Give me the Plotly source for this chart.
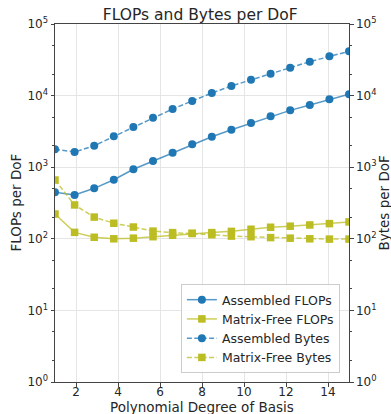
import plotly.graph_objects as go

# Data
degree = [1.0, 1.933, 2.867, 3.8, 4.733, 5.667, 6.6, 7.533, 8.467, 9.4,
          10.333, 11.267, 12.2, 13.133, 14.067, 15.0]
assembled_flops = [446, 409, 507, 669, 935, 1221, 1594, 2088, 2667, 3340,
                   4143, 5130, 6220, 7390, 8870, 10420]
matrixfree_flops = [222, 123, 105, 100, 102, 107, 112, 119, 122, 127,
                    136, 145, 150, 156, 163, 172]
assembled_bytes = [1780, 1630, 2000, 2700, 3640, 4910, 6500, 8410, 10870, 13620,
                   16680, 20220, 24540, 29740, 35400, 41560]
matrixfree_bytes = [662, 297, 201, 165, 146, 128, 122, 119, 114, 109,
                    107, 104, 102, 100, 99, 99]

x_ticks = [2, 4, 6, 8, 10, 12, 14]
y_ticks = [1, 10, 100, 1000, 10000, 100000]
y_ticktext = ["10<sup>0</sup>", "10<sup>1</sup>", "10<sup>2</sup>",
              "10<sup>3</sup>", "10<sup>4</sup>", "10<sup>5</sup>"]

BLUE = "#1f77b4"
BLUE_LINE = "rgba(31,119,180,0.75)"
OLIVE = "#bcbd22"
OLIVE_LINE = "rgba(188,189,34,0.75)"
TEXT = "#262626"
SPINE = "#444444"
GRID = "#e5e5e5"
FONT = "DejaVu Sans"

fig = go.Figure()
fig.add_trace(go.Scatter(x=degree, y=assembled_flops, name="Assembled FLOPs",
                         mode="lines+markers", yaxis="y",
                         line=dict(color=BLUE_LINE, width=1.5),
                         marker=dict(color=BLUE, size=8, symbol="circle")))
fig.add_trace(go.Scatter(x=degree, y=matrixfree_flops, name="Matrix-Free FLOPs",
                         mode="lines+markers", yaxis="y",
                         line=dict(color=OLIVE_LINE, width=1.5),
                         marker=dict(color=OLIVE, size=7.5, symbol="square")))
fig.add_trace(go.Scatter(x=degree, y=assembled_bytes, name="Assembled Bytes",
                         mode="lines+markers", yaxis="y2",
                         line=dict(color=BLUE_LINE, width=1.5, dash="5px,2.4px"),
                         marker=dict(color=BLUE, size=8, symbol="circle")))
fig.add_trace(go.Scatter(x=degree, y=matrixfree_bytes, name="Matrix-Free Bytes",
                         mode="lines+markers", yaxis="y2",
                         line=dict(color=OLIVE_LINE, width=1.5, dash="5px,2.4px"),
                         marker=dict(color=OLIVE, size=7.5, symbol="square")))

TICKFONT = dict(size=12, color=TEXT, family=FONT)
yax_common = dict(
    type="log", range=[0, 5], tickvals=y_ticks, ticktext=y_ticktext,
    showline=True, linecolor=SPINE, linewidth=1,
    ticks="outside", ticklen=3.5, tickcolor=SPINE, tickwidth=1,
    tickfont=TICKFONT,
    minor=dict(ticks="outside", ticklen=2, tickcolor=SPINE, showgrid=False),
    zeroline=False, automargin=False,
)

AXTITLE = dict(size=13.5, color=TEXT, family=FONT)
fig.update_layout(
    width=391, height=414,
    margin=dict(l=55, r=42, t=24, b=32),
    paper_bgcolor="white", plot_bgcolor="white",
    font=dict(family=FONT, color=TEXT),
    title=dict(text="FLOPs and Bytes per DoF", x=0.512, xanchor="center",
               y=1 - 15 / 414, yanchor="middle",
               font=dict(size=15.5, color=TEXT, family=FONT)),
    xaxis=dict(range=[1, 15], tickvals=x_ticks,
               showgrid=True, gridcolor=GRID, gridwidth=1,
               showline=True, linecolor=SPINE, linewidth=1, mirror=True,
               ticks="outside", ticklen=3.5, tickcolor=SPINE,
               tickfont=TICKFONT, ticklabelstandoff=-5,
               zeroline=False, automargin=False),
    yaxis=dict(**yax_common, showgrid=True, gridcolor=GRID, gridwidth=1),
    yaxis2=dict(**yax_common, overlaying="y", side="right", showgrid=False),
    legend=dict(x=0.969, xanchor="right", y=0.025, yanchor="bottom",
                bgcolor="rgba(255,255,255,0.8)", bordercolor="#cccccc",
                borderwidth=1, font=dict(size=12.5, color=TEXT, family=FONT),
                traceorder="normal", tracegroupgap=0, itemwidth=30),
    showlegend=True,
    annotations=[
        dict(text="Polynomial Degree of Basis", xref="paper", yref="paper",
             x=0.5, y=-(406.5 - 382) / 358, xanchor="center", yanchor="middle",
             showarrow=False, font=AXTITLE),
        dict(text="FLOPs per DoF", xref="paper", yref="paper",
             x=(15.5 - 55) / 294, y=0.5, xanchor="center", yanchor="middle",
             textangle=-90, showarrow=False, font=AXTITLE),
        dict(text="Bytes per DoF", xref="paper", yref="paper",
             x=(383.5 - 55) / 294, y=0.5, xanchor="center", yanchor="middle",
             textangle=-90, showarrow=False, font=AXTITLE),
    ],
)

fig.write_html("out.html")
